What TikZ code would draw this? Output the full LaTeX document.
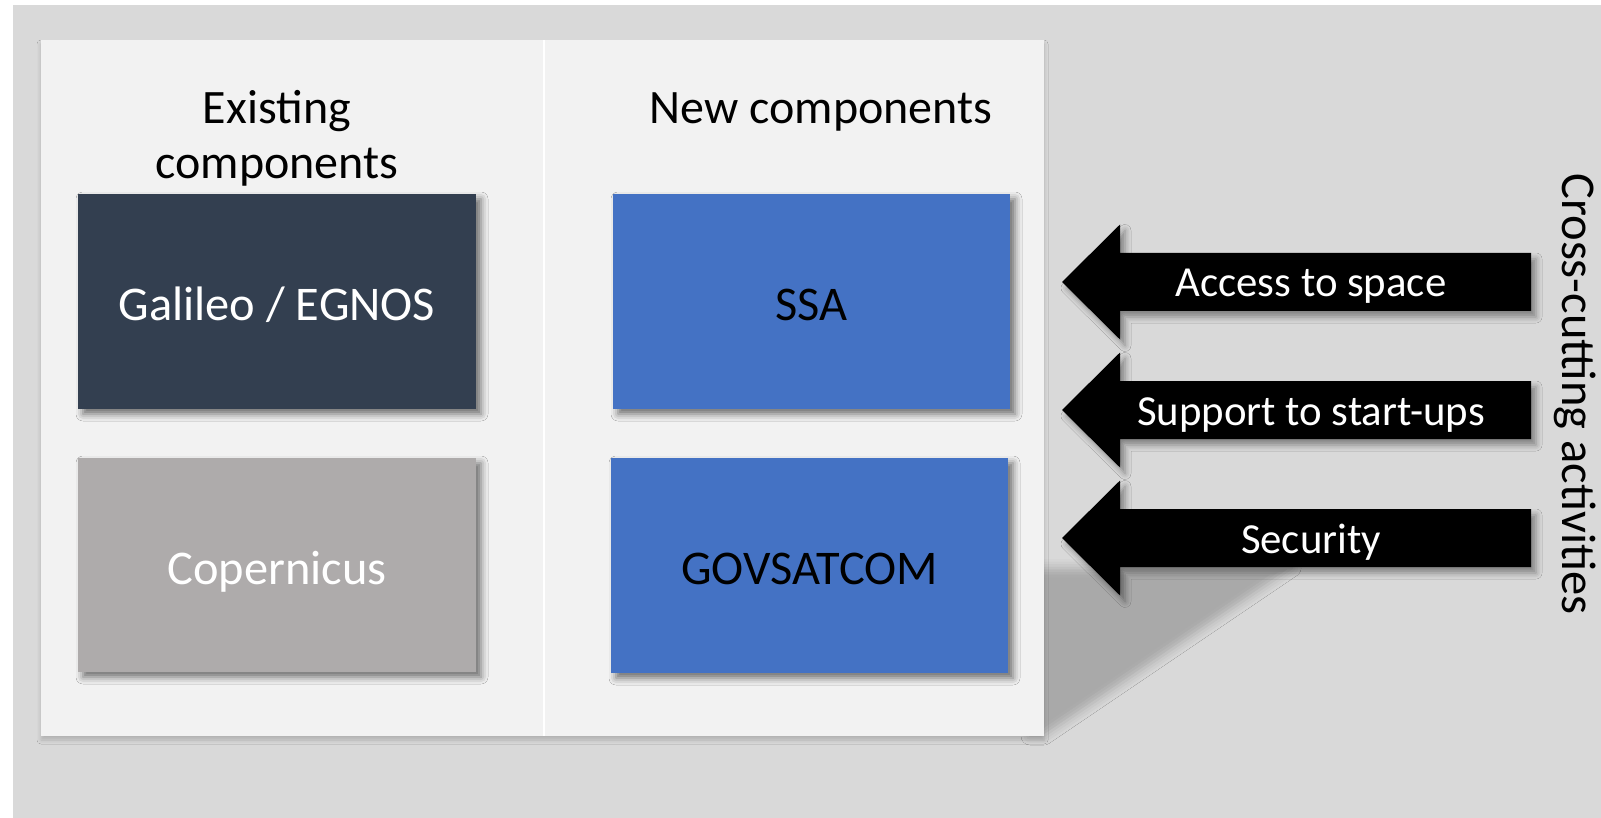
\documentclass[tikz,border=0pt]{standalone}
\usepackage{fontspec}
\setmainfont{Carlito}
\usetikzlibrary{shadows.blur}
\definecolor{bggray}{HTML}{D9D9D9}
\definecolor{panelc}{HTML}{F2F2F2}
\definecolor{navyc}{HTML}{333F50}
\definecolor{cgray}{HTML}{AEABAB}
\definecolor{blueb}{HTML}{4472C4}
\begin{document}
\begin{tikzpicture}[x=1pt,y=-1pt,
  boxc/.style={draw=none, inner sep=0pt,
    blur shadow={shadow xshift=5pt, shadow yshift=-5pt, shadow blur radius=7pt, shadow opacity=55}},
  boxtxt/.style={anchor=base, inner sep=0pt, font=\fontsize{48.4}{58}\selectfont},
  hdr/.style={anchor=base, inner sep=0pt, align=center, font=\fontsize{48}{58}\selectfont},
  arrowc/.style={fill=black,
    blur shadow={shadow xshift=5pt, shadow yshift=-6pt, shadow blur radius=6pt, shadow opacity=40}},
  arrtxt/.style={anchor=base, inner sep=0pt, text=white, font=\fontsize{42.8}{51}\selectfont}]
\useasboundingbox (0,0) rectangle (1601,818);
\fill[white] (0,0) rectangle (1601,818);
\fill[bggray] (13,5) rectangle (1601,818);
% perspective shadow of the panel
\path[blur shadow={shadow xshift=0pt, shadow yshift=0pt, shadow blur radius=9pt, shadow opacity=22}]
  (1030,568) -- (1292,568) -- (1044,736) -- (1030,736) -- cycle;
% panel
\path[fill=panelc, blur shadow={shadow xshift=0pt, shadow yshift=-4pt, shadow blur radius=4pt, shadow opacity=18}]
  (41,40) rectangle (1044,736);
\draw[white, line width=2pt] (543.5,40) -- (543.5,736);
% boxes
\path[boxc, fill=navyc] (78,194) rectangle (476,409);
\path[boxc, fill=cgray] (78,458) rectangle (476,672);
\path[boxc, fill=blueb] (613,194) rectangle (1010,409);
\path[boxc, fill=blueb] (611,458) rectangle (1008,673);
\node[boxtxt, text=white] (gal) at (277,320) {Galileo / EGNOS};
\node[boxtxt, text=white] (cop) at (277,584) {Copernicus};
\node[boxtxt, text=black] (ssa) at (811.5,320) {SSA};
\node[boxtxt, text=black] (gov) at (809.5,584) {GOVSATCOM};
% headers
\node[hdr] (ex1) at (277,124) {Existing};
\node[hdr] (ex2) at (277,179) {components};
\node[hdr] (new) at (821,124) {New components};
% arrows
\foreach \c in {282,410,538}{
  \path[arrowc] (1531,\c-29) -- (1120,\c-29) -- (1120,\c-57.5) -- (1062,\c)
    -- (1120,\c+57.5) -- (1120,\c+29) -- (1531,\c+29) -- cycle;
}
\node[arrtxt] (a1) at (1311,297) {Access to space};
\node[arrtxt] (a2) at (1311,425) {Support to start-ups};
\node[arrtxt] (a3) at (1311,553) {Security};
% vertical label
\node[anchor=base, inner sep=0pt, rotate=-90, font=\fontsize{48.5}{58}\selectfont] (cross) at (1562,394) {Cross-cutting activities};
\end{tikzpicture}
\end{document}
